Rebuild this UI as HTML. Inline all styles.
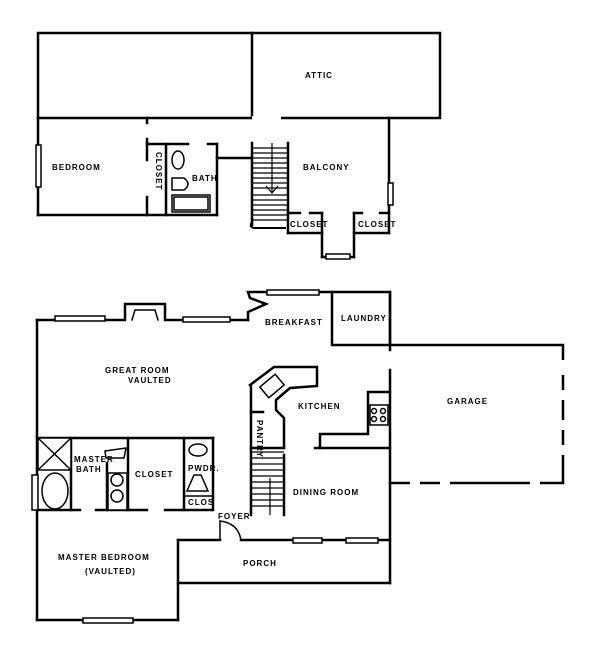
<!DOCTYPE html>
<html><head><style>
html,body{margin:0;padding:0;background:#fff;width:600px;height:657px;overflow:hidden}
svg{display:block}
text{font-family:"Liberation Sans",sans-serif;font-size:8px;font-weight:bold;fill:#000;letter-spacing:1px}
</style></head><body>
<svg width="600" height="657" viewBox="0 0 600 657" xmlns="http://www.w3.org/2000/svg">
<g stroke="#000" stroke-width="2.5" fill="none" stroke-linecap="square">
<!-- UPPER -->
<rect x="38" y="33" width="402" height="85"/>
<line x1="252" y1="33" x2="252" y2="118"/>
<line x1="254" y1="118" x2="279" y2="118" stroke="#fff" stroke-width="4"/>
<line x1="38" y1="118" x2="38" y2="215"/>
<line x1="38" y1="215" x2="217" y2="215"/>
<line x1="389" y1="118" x2="389" y2="233"/>
<line x1="147" y1="118" x2="147" y2="123"/>
<line x1="147" y1="139" x2="147" y2="160"/>
<line x1="147" y1="197" x2="147" y2="215"/>
<line x1="147" y1="144" x2="188" y2="144"/>
<line x1="208" y1="144" x2="217" y2="144"/>
<line x1="166" y1="144" x2="166" y2="215"/>
<line x1="217" y1="144" x2="217" y2="215"/>
<line x1="217" y1="158" x2="252" y2="158"/>
<line x1="252" y1="143" x2="252" y2="225"/>
<line x1="288" y1="143" x2="288" y2="233"/>
<line x1="288" y1="213" x2="300" y2="213"/>
<line x1="310" y1="213" x2="322" y2="213"/>
<line x1="288" y1="233" x2="322" y2="233"/>
<line x1="322" y1="213" x2="322" y2="257"/>
<line x1="354" y1="213" x2="354" y2="257"/>
<line x1="322" y1="257" x2="354" y2="257"/>
<line x1="354" y1="213" x2="362" y2="213"/>
<line x1="380" y1="213" x2="389" y2="213"/>
<line x1="354" y1="233" x2="389" y2="233"/>
<path d="M252 222 Q248 228 256 228 L285 228" stroke-width="2"/>
</g>
<g stroke="#000" stroke-width="1.5" fill="#fff">
<rect x="36" y="145" width="5" height="42"/>
<rect x="388" y="183" width="5" height="22"/>
<rect x="326" y="254" width="24" height="5"/>
<ellipse cx="178" cy="160" rx="6" ry="9"/>
<path d="M172 178 L184 178 Q192 184 184 190 L172 190 Z"/>
<rect x="172" y="195" width="38" height="17"/>
<rect x="174" y="197" width="34" height="13"/>
</g>
<g stroke="#000" stroke-width="1.2">
<line x1="252" y1="148" x2="288" y2="148"/><line x1="252" y1="153" x2="288" y2="153"/>
<line x1="252" y1="158" x2="288" y2="158"/><line x1="252" y1="163" x2="288" y2="163"/>
<line x1="252" y1="168" x2="288" y2="168"/><line x1="252" y1="173" x2="288" y2="173"/>
<line x1="252" y1="178" x2="288" y2="178"/><line x1="252" y1="183" x2="288" y2="183"/>
<line x1="252" y1="188" x2="288" y2="188"/><line x1="252" y1="195" x2="288" y2="195"/>
<line x1="252" y1="200" x2="288" y2="200"/><line x1="252" y1="205" x2="288" y2="205"/>
<line x1="252" y1="210" x2="288" y2="210"/><line x1="252" y1="215" x2="288" y2="215"/>
<line x1="252" y1="220" x2="288" y2="220"/>
<line x1="272" y1="143" x2="272" y2="193"/>
<path d="M266 186 L272 193 L278 186" fill="none"/>
</g>
<text x="305" y="78">ATTIC</text>
<text x="52" y="170" font-size="7">BEDROOM</text>
<text x="303" y="170" font-size="7">BALCONY</text>
<text x="192" y="181" font-size="5">BATH</text>
<text x="290" y="227" font-size="5">CLOSET</text>
<text x="358" y="227" font-size="5">CLOSET</text>
<text x="0" y="0" font-size="6" transform="translate(156,152) rotate(90)">CLOSET</text>

<!-- LOWER -->
<g stroke="#000" stroke-width="2.5" fill="none" stroke-linecap="square">
<path d="M37 320 L125 320 L125 304 L165 304 L165 320 L248 320"/>
<path d="M132 320 L135 310 L155 310 L158 320" stroke-width="1.5"/>
<path d="M248 320 L248 312 L266 304 L250 298 L248 292 L332 292"/>
<rect x="332" y="292" width="58" height="53"/>
<line x1="390" y1="292" x2="390" y2="350"/>
<line x1="390" y1="370" x2="390" y2="583"/>
<line x1="37" y1="320" x2="37" y2="620"/>
<line x1="37" y1="620" x2="178" y2="620"/>
<line x1="178" y1="540" x2="178" y2="620"/>
<line x1="178" y1="583" x2="390" y2="583"/>
<line x1="178" y1="540" x2="220" y2="540"/>
<line x1="241" y1="540" x2="390" y2="540"/>
<path d="M220 540 L220 521 Q238 523 241 540" stroke-width="1.5"/>
<path d="M390 345 L563 345 L563 483 L390 483"/>
<line x1="37" y1="438" x2="213" y2="438"/>
<line x1="213" y1="438" x2="213" y2="510"/>
<line x1="37" y1="510" x2="80" y2="510"/>
<line x1="96" y1="510" x2="147" y2="510"/>
<line x1="165" y1="510" x2="212" y2="510"/>
<line x1="71" y1="438" x2="71" y2="510"/>
<line x1="107" y1="463" x2="107" y2="510"/>
<line x1="128" y1="440" x2="128" y2="510"/>
<line x1="184" y1="440" x2="184" y2="510"/>
<path d="M250 385 L274 367 L317 367 L317 386 L290 388 L276 400 L276 410 L284 418 L284 448"/>
<line x1="251" y1="385" x2="251" y2="515"/>
<line x1="251" y1="412" x2="263" y2="412"/>
<line x1="251" y1="448" x2="284" y2="448"/>
<line x1="284" y1="455" x2="284" y2="515"/>
<path d="M320 448 L320 434 L368 434 L368 392 L390 392"/>
<line x1="315" y1="448" x2="390" y2="448"/>
</g>
<g stroke="#fff" stroke-width="4">
<line x1="563" y1="360" x2="563" y2="375"/>
<line x1="563" y1="390" x2="563" y2="400"/>
<line x1="563" y1="420" x2="563" y2="430"/>
<line x1="563" y1="445" x2="563" y2="455"/>
<line x1="410" y1="483" x2="420" y2="483"/>
<line x1="440" y1="483" x2="450" y2="483"/>
<line x1="530" y1="483" x2="540" y2="483"/>
</g>
<g stroke="#000" stroke-width="1.5" fill="#fff">
<rect x="55" y="316" width="50" height="5"/>
<rect x="183" y="317" width="47" height="5"/>
<rect x="267" y="290" width="52" height="5"/>
<rect x="83" y="618" width="50" height="5"/>
<rect x="293" y="538" width="29" height="5"/>
<rect x="346" y="538" width="32" height="5"/>
<rect x="32" y="475" width="6" height="35"/>
<rect x="38" y="438" width="33" height="32"/>
<line x1="38" y1="438" x2="71" y2="470"/><line x1="71" y1="438" x2="38" y2="470"/>
<ellipse cx="55" cy="491" rx="13" ry="18"/>
<rect x="108" y="473" width="19" height="37"/>
<circle cx="117" cy="480" r="6"/><circle cx="117" cy="496" r="6"/>
<path d="M105 451 L126 448 L124 458 L106 458 Z"/>
<ellipse cx="198" cy="450" rx="9" ry="6"/>
<path d="M187 491 L194 475 L201 475 L208 491 Z"/>
<line x1="184" y1="496" x2="213" y2="496"/>
<rect x="262" y="379" width="20" height="14" transform="rotate(-40 272 386)"/>
<rect x="370" y="405" width="18" height="20"/>
<circle cx="374" cy="411" r="2.5"/><circle cx="383" cy="411" r="2.5"/>
<circle cx="374" cy="419" r="2.5"/><circle cx="383" cy="419" r="2.5"/>
</g>
<g stroke="#000" stroke-width="1.2">
<line x1="251" y1="452" x2="284" y2="452"/><line x1="251" y1="458" x2="284" y2="458"/>
<line x1="251" y1="464" x2="284" y2="464"/><line x1="251" y1="470" x2="284" y2="470"/>
<line x1="251" y1="476" x2="284" y2="476"/><line x1="251" y1="482" x2="284" y2="482"/>
<line x1="251" y1="488" x2="284" y2="488"/><line x1="251" y1="494" x2="284" y2="494"/>
<line x1="251" y1="500" x2="284" y2="500"/><line x1="251" y1="506" x2="284" y2="506"/>
<line x1="270" y1="478" x2="270" y2="515"/>
</g>
<text x="265" y="325">BREAKFAST</text>
<text x="341" y="321" font-size="5">LAUNDRY</text>
<text x="105" y="373">GREAT ROOM</text>
<text x="128" y="383" font-size="7">VAULTED</text>
<text x="298" y="409">KITCHEN</text>
<text x="447" y="404">GARAGE</text>
<text x="293" y="495">DINING ROOM</text>
<text x="74" y="462" font-size="6">MASTER</text>
<text x="76" y="472" font-size="6">BATH</text>
<text x="135" y="477">CLOSET</text>
<text x="188" y="471" font-size="6">PWDR.</text>
<text x="188" y="505" font-size="5">CLOS</text>
<text x="218" y="519" font-size="7">FOYER</text>
<text x="58" y="560">MASTER BEDROOM</text>
<text x="85" y="574" font-size="7">(VAULTED)</text>
<text x="243" y="566">PORCH</text>
<text x="0" y="0" font-size="5" transform="translate(257,420) rotate(90)">PANTRY</text>
</svg>
</body></html>
